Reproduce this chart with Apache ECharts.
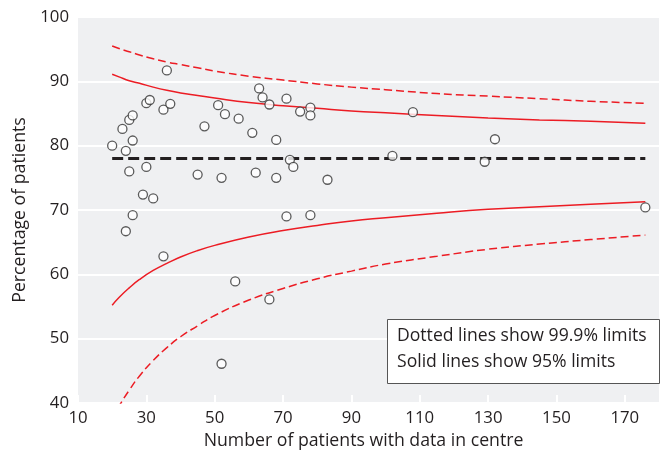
<!DOCTYPE html>
<html>
<head>
<meta charset="utf-8">
<script src="https://cdn.jsdelivr.net/npm/echarts@6/dist/echarts.min.js"></script>
<style>
html,body{margin:0;padding:0;background:#fff;}
#chart{width:663px;height:461px;}
</style>
</head>
<body>
<div id="chart"></div>
<script>
// Centre results: number of patients and percentage
var centreN = [20,23,24,24,25,25,26,26,26,29,30,30,31,32,35,35,36,37,45,47,51,52,52,53,56,57,61,62,63,64,66,66,68,68,71,71,72,73,75,78,78,78,83,102,108,129,132,176];
var centrePct = [80.0,82.6,79.2,66.7,84.0,76.0,84.7,80.8,69.2,72.4,86.6,76.7,87.1,71.8,85.6,62.8,91.7,86.5,75.5,83.0,86.3,75.0,46.1,84.9,58.9,84.2,82.0,75.8,88.9,87.5,86.4,56.1,80.9,75.0,87.3,69.0,77.8,76.7,85.3,85.9,84.7,69.2,74.7,78.4,85.2,77.5,81.0,70.4];

// Funnel limits
var limitN   = [20,22,25,28,32,36,40,45,50,60,70,80,90,100,115,130,145,160,176];
var upper95  = [91.1,90.7,90.1,89.7,89.1,88.6,88.2,87.8,87.4,86.7,86.2,85.8,85.4,85.1,84.7,84.3,84.0,83.8,83.5];
var lower95  = [55.2,56.4,57.9,59.2,60.6,61.7,62.7,63.7,64.5,65.8,66.8,67.6,68.3,68.8,69.5,70.1,70.5,70.9,71.3];
var upper999 = [95.5,95.1,94.6,94.1,93.5,93.0,92.6,92.1,91.6,90.8,90.2,89.6,89.1,88.7,88.1,87.7,87.3,86.9,86.6];
var lower999 = [37.5,39.5,42.0,44.2,46.6,48.6,50.3,52.0,53.6,56.0,57.8,59.3,60.5,61.6,62.8,63.9,64.7,65.4,66.1];

// Overall target
var targetN = [20,176];
var targetPct = [78,78];

var legendLines = ["Dotted lines show 99.9% limits","Solid lines show 95% limits"];
var xTitle = "Number of patients with data in centre";
var yTitle = "Percentage of patients";

function pairs(xs, ys){ return xs.map(function(x,i){ return [x, ys[i]]; }); }

var FONT = '"Open Sans", "Noto Sans", sans-serif';
var TXT = '#231f20';
var RED = '#ec1c24';

var chart = echarts.init(document.getElementById('chart'), null, {renderer:'canvas'});
chart.setOption({
  animation:false,
  backgroundColor:'#ffffff',
  grid:{left:78,right:4,top:17,bottom:58,show:true,backgroundColor:'#eff0f2',borderWidth:0},
  xAxis:{
    type:'value',min:10,max:180,interval:20,
    name:xTitle,nameLocation:'middle',nameGap:29,
    nameTextStyle:{fontFamily:FONT,fontSize:17.7,color:TXT,padding:[0,10,0,0]},
    axisLine:{show:false},
    axisTick:{show:true,inside:true,length:8,lineStyle:{color:'#ffffff',width:2}},
    axisLabel:{fontFamily:FONT,fontSize:16.8,color:TXT,margin:7,showMaxLabel:false},
    splitLine:{show:false}
  },
  yAxis:{
    type:'value',min:40,max:100,interval:10,
    name:yTitle,nameLocation:'middle',nameGap:43,nameRotate:90,
    nameTextStyle:{fontFamily:FONT,fontSize:17.7,color:TXT},
    axisLine:{show:false},axisTick:{show:false},
    axisLabel:{fontFamily:FONT,fontSize:16.8,color:TXT,margin:9},
    splitLine:{show:true,lineStyle:{color:'#ffffff',width:2}}
  },
  series:[
    {type:'line',data:pairs(limitN,upper999),showSymbol:false,symbol:'none',lineStyle:{color:RED,width:1.5,type:[8,4]},smooth:true,z:2},
    {type:'line',data:pairs(limitN,lower999),showSymbol:false,symbol:'none',lineStyle:{color:RED,width:1.5,type:[8,4]},smooth:true,z:2},
    {type:'line',data:pairs(limitN,upper95),showSymbol:false,symbol:'none',lineStyle:{color:RED,width:1.5},smooth:true,z:2},
    {type:'line',data:pairs(limitN,lower95),showSymbol:false,symbol:'none',lineStyle:{color:RED,width:1.5},smooth:true,z:2},
    {type:'line',data:pairs(targetN,targetPct),showSymbol:false,symbol:'none',lineStyle:{color:'#231f20',width:3,type:[11,5]},z:3},
    {type:'scatter',data:pairs(centreN,centrePct),symbol:'circle',symbolSize:9,
     itemStyle:{color:'#ffffff',borderColor:'#333333',borderWidth:1.3},z:5}
  ],
  graphic:[
    {type:'rect',left:387,top:319,z:100,zlevel:1,shape:{width:272,height:64},style:{fill:'#ffffff',stroke:'#555555',lineWidth:1}},
    {type:'text',left:397,top:327,z:101,zlevel:1,style:{text:legendLines[0],font:'17.6px '+FONT,fill:TXT}},
    {type:'text',left:397,top:353,z:101,zlevel:1,style:{text:legendLines[1],font:'17.6px '+FONT,fill:TXT}}
  ]
});
</script>
</body>
</html>
